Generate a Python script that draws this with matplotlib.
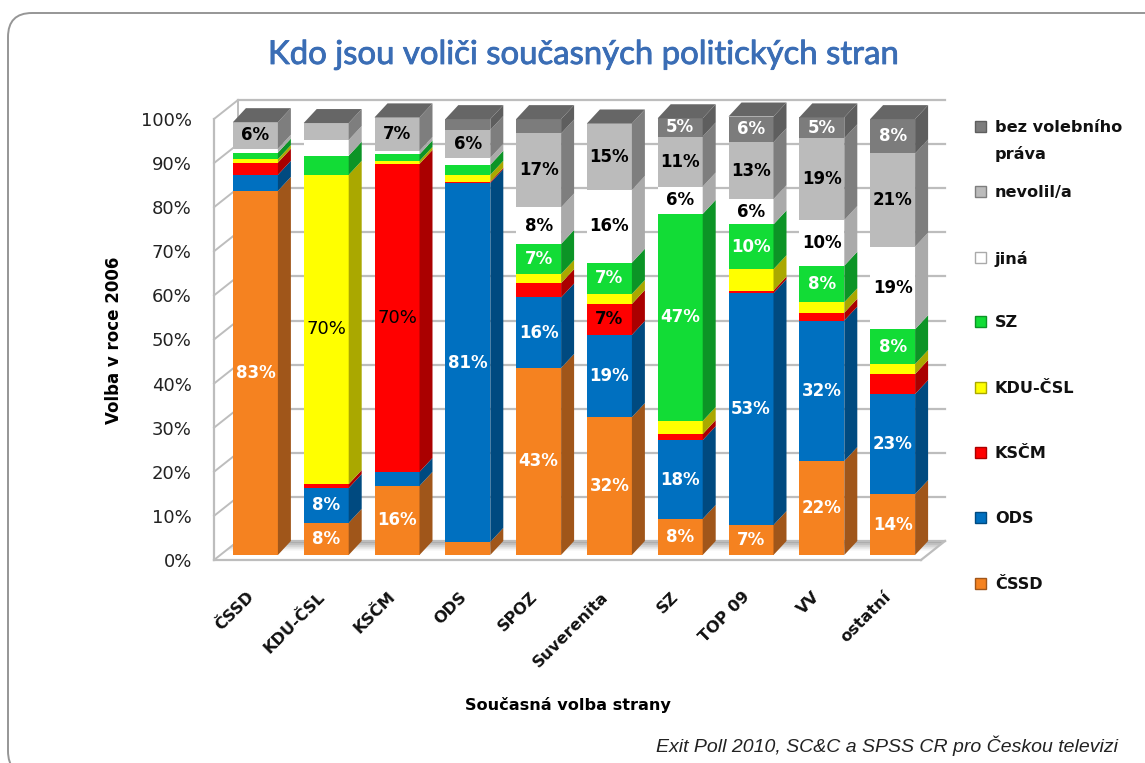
#!/usr/bin/env python3
# -*- coding: utf-8 -*-
import numpy as np
import matplotlib
matplotlib.use('Agg')
import matplotlib.pyplot as plt
import matplotlib.patheffects as pe
from matplotlib.patches import FancyBboxPatch, Polygon, Rectangle

## DATA
parties = ['ČSSD', 'KDU-ČSL', 'KSČM', 'ODS', 'SPOZ', 'Suverenita', 'SZ', 'TOP 09', 'VV', 'ostatní']
series = ['ČSSD', 'ODS', 'KSČM', 'KDU-ČSL', 'SZ', 'jiná', 'nevolil/a', 'bez volebního\npráva']

cssd = [83.7, 7.4, 15.9, 3.0, 43.0, 31.7, 8.3, 6.9, 21.6, 14.0]
ods = [3.7, 8.0, 3.2, 82.5, 16.2, 18.9, 18.1, 53.3, 32.3, 23.0]
kscm = [2.8, 0.9, 70.8, 0.3, 3.3, 7.1, 1.4, 0.6, 1.8, 4.6]
kdu = [0.8, 71.1, 0.7, 1.6, 2.1, 2.3, 3.0, 4.9, 2.4, 2.3]
sz = [1.5, 4.4, 1.5, 2.3, 6.9, 7.2, 47.6, 10.3, 8.4, 8.0]
jina = [0.9, 3.6, 0.8, 1.6, 8.4, 16.7, 6.3, 5.8, 10.5, 19.0]
nevolil = [6.1, 3.9, 7.7, 6.4, 17.0, 15.3, 11.5, 13.1, 18.8, 21.4]
bez = [0.0, 0.0, 0.0, 2.5, 3.3, 0.0, 4.2, 5.9, 4.8, 7.9]

cssd_lab = ['83%', '8%', '16%', '', '43%', '32%', '8%', '7%', '22%', '14%']
ods_lab = ['', '8%', '', '81%', '16%', '19%', '18%', '53%', '32%', '23%']
kscm_lab = ['', '', '70%', '', '', '7%', '', '', '', '']
kdu_lab = ['', '70%', '', '', '', '', '', '', '', '']
sz_lab = ['', '', '', '', '7%', '7%', '47%', '10%', '8%', '8%']
jina_lab = ['', '', '', '', '8%', '16%', '6%', '6%', '10%', '19%']
nevolil_lab = ['6%', '', '7%', '6%', '17%', '15%', '11%', '13%', '19%', '21%']
bez_lab = ['', '', '', '', '', '', '5%', '6%', '5%', '8%']

values = np.array([cssd, ods, kscm, kdu, sz, jina, nevolil, bez])
labels = [cssd_lab, ods_lab, kscm_lab, kdu_lab, sz_lab, jina_lab, nevolil_lab, bez_lab]

front_cols = ['#F58220', '#0070C0', '#FF0000', '#FFFF00', '#12DC36', '#FFFFFF', '#BBBBBB', '#7C7C7C']
side_cols = ['#A0561A', '#004A80', '#AA0000', '#AAA800', '#0C9426', '#AAAAAA', '#7E7E7E', '#5E5E5E']
label_cols = ['white', 'white', 'black', 'black', 'white', 'black', 'black', 'white']
top_col = '#666666'

W, H = 1145, 763
fig = plt.figure(figsize=(W / 100, H / 100), dpi=100)


def place(left, right, top, bottom, **kw):
    return fig.add_axes([left / W, 1 - bottom / H, (right - left) / W, (bottom - top) / H], **kw)


## PAGE: frame, title, footer, legend (pixel coordinates)
page = place(0, W, 0, H)
page.set_xlim(0, W)
page.set_ylim(H, 0)
page.axis('off')
page.add_patch(FancyBboxPatch((8, 13), 1300, 762, boxstyle='round,pad=0,rounding_size=24',
                              fc='white', ec='#969696', lw=1.4))
title = page.text(583, 55, 'Kdo jsou voliči současných politických stran', color='#3A6DB5', fontsize=23.7,
                  family='Lato', ha='center', va='center')
title.set_path_effects([pe.withStroke(linewidth=0.6, foreground='#3A6DB5')])
page.text(1118, 746, 'Exit Poll 2010, SC&C a SPSS CR pro Českou televizi', style='italic', fontsize=14,
          family='Liberation Sans', ha='right', va='center', color='#222222')
page.text(114, 340, 'Volba v roce 2006', rotation=90, fontweight='bold', fontsize=12, ha='center', va='center')
page.text(568, 705, 'Současná volba strany', fontweight='bold', fontsize=11.6, ha='center', va='center')

legend_y = [584, 518, 453, 388, 322, 258, 192, 127]
for name, col, edge, y in zip(series, front_cols, side_cols, legend_y):
    page.add_patch(Rectangle((975, y - 6), 11, 11, fc=col, ec=edge, lw=1))
    page.text(995, y - 7, name, fontweight='bold', fontsize=11.6, va='top', ha='left',
              linespacing=1.85, color='#111111')

## WALLS: front edge of the chart box, with the real value axis
wall = place(214, 921, 119, 560)
wall.patch.set_alpha(0)
wall.set_xlim(0, 10)
wall.set_ylim(0, 100)
for s in ['top', 'right']:
    wall.spines[s].set_visible(False)
for s in ['left', 'bottom']:
    wall.spines[s].set_color('#BDBDBD')
    wall.spines[s].set_linewidth(1.6)
wall.set_xticks([])
wall.set_yticks(np.arange(0, 101, 10))
wall.set_yticklabels(['%d%%' % v for v in np.arange(0, 101, 10)], fontsize=13, color='#222222')
wall.tick_params(axis='y', length=0, pad=16)

dx_w = 24 / 70.7
dy_w = 19 / 4.41
## floor, fading from the back edge towards the front
for frac, shade in zip([0.5, 0.6, 0.7, 0.8, 0.9], ['#F4F4F4', '#E2E2E2', '#D0D0D0', '#BEBEBE', '#ABABAB']):
    wall.add_patch(Polygon([(dx_w, dy_w), (10 + dx_w, dy_w), (10 + dx_w * frac, dy_w * frac), (dx_w * frac, dy_w * frac)],
                           fc=shade, ec='none', clip_on=False, zorder=frac))
wall.plot([10, 10 + dx_w], [0, dy_w], color='#BDBDBD', lw=1.6, clip_on=False, zorder=1)
for v in np.arange(0, 101, 10):
    wall.plot([dx_w, 10 + dx_w], [v + dy_w, v + dy_w], color='#BDBDBD', lw=1.6, clip_on=False, zorder=1)
    wall.plot([0, dx_w], [v, v + dy_w], color='#BDBDBD', lw=1.4, clip_on=False, zorder=1)
wall.plot([dx_w, dx_w], [dy_w, 100 + dy_w], color='#BDBDBD', lw=1.4, clip_on=False, zorder=1)

## BARS: plane of the bar fronts
ax = place(220, 928, 120, 555)
ax.patch.set_alpha(0)
ax.axis('off')
ax.set_xlim(-0.5, 9.5)
ax.set_ylim(0, 100)

x = np.arange(len(parties))
width = 45 / 70.8
dx = 13 / 70.8
dy = 14 / 4.35
bottom = np.zeros(len(parties))
for vals, labs, fc, sc, lc in zip(values, labels, front_cols, side_cols, label_cols):
    for b in ax.bar(x, vals, width, bottom=bottom, color=fc, lw=0, zorder=3):
        b.set_clip_on(False)
    for i in x:
        if vals[i] <= 0:
            continue
        r = i + width / 2
        y0, y1 = bottom[i], bottom[i] + vals[i]
        ax.add_patch(Polygon([(r, y0), (r + dx, y0 + dy), (r + dx, y1 + dy), (r, y1)], fc=sc, ec='none',
                             zorder=3, clip_on=False))
        if labs[i]:
            if labs[i] == '70%':
                ax.text(i, (y0 + y1) / 2, labs[i], color=lc, fontsize=13, ha='center', va='center', zorder=5)
            else:
                ax.text(i, (y0 + y1) / 2, labs[i], color=lc, fontsize=12, fontweight='bold', ha='center',
                        va='center', zorder=5)
    bottom += vals
for i in x:
    l, r, t = i - width / 2, i + width / 2, bottom[i]
    ax.add_patch(Polygon([(l, t), (r, t), (r + dx, t + dy), (l + dx, t + dy)], fc=top_col, ec='none', zorder=3,
                         clip_on=False))
    ax.text(i - 0.13, -7.8, parties[i], rotation=45, fontweight='bold', fontsize=11.6, ha='right', va='top',
            rotation_mode='anchor', color='#111111', clip_on=False)

plt.savefig('out.png', dpi=100)
